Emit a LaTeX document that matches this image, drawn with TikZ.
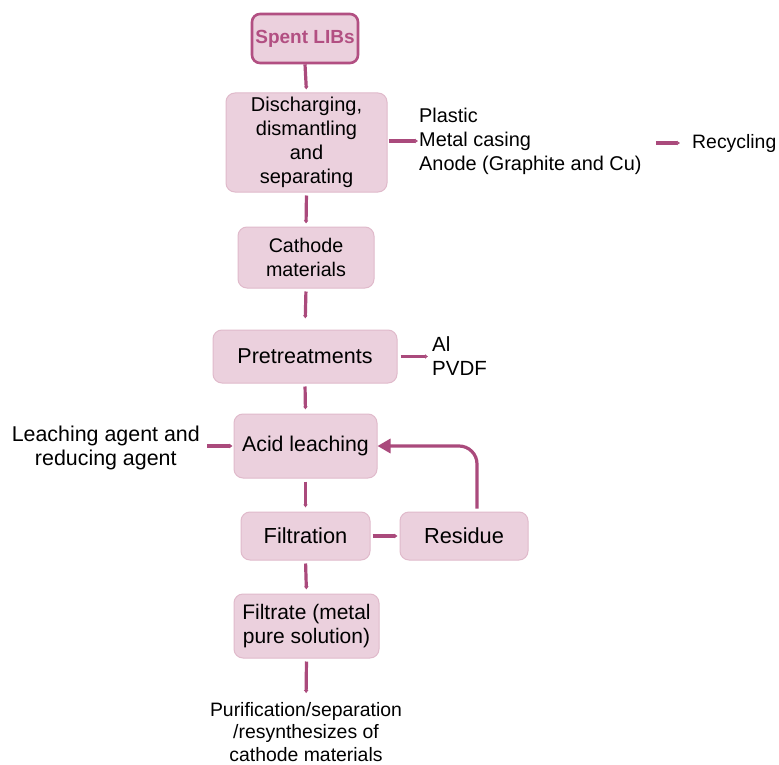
\documentclass[tikz,border=0pt]{standalone}
\usepackage{fontspec}
\setmainfont{Liberation Sans}
\usetikzlibrary{arrows.meta}
\definecolor{boxfill}{HTML}{EBD0DD}
\definecolor{boxline}{HTML}{E0BACB}
\definecolor{lnk}{HTML}{AA4A7C}
\definecolor{spentc}{HTML}{B24F82}
\newcommand{\fsz}[1]{\fontsize{#1}{24}\selectfont}
\begin{document}
\begin{tikzpicture}[x=1pt,y=-1pt,
  box/.style={draw=boxline, fill=boxfill, line width=1pt, rounded corners=9pt, align=center,
    font=\fsz{20.5}, inner sep=0pt},
  lbl/.style={align=left, font=\fsz{20.5}, inner sep=0pt},
  conn/.style={draw=lnk, line width=3.2pt, -{Latex[length=3pt,width=5pt]}},
  loopconn/.style={draw=lnk, line width=3.2pt, rounded corners=18pt, -{Triangle[length=13pt,width=14pt]}}
]
\fill[white] (0,0) rectangle (779,765);
\useasboundingbox (0,0) rectangle (779,765);

\node[box, draw=spentc, line width=2.6pt, rounded corners=8pt, minimum width=106pt, minimum height=49pt,
  text=spentc, font=\bfseries\fontsize{19}{23}\selectfont] (spent) at (305,38.5) {Spent LIBs};
\node[box, font=\fsz{20}, minimum width=161pt, minimum height=99pt] (disch) at (306.5,142.5) {Discharging,\\dismantling\\and\\separating};
\node[box, font=\fsz{19.7}, minimum width=136pt, minimum height=61pt] (cath) at (306,257.5) {Cathode\\materials};
\node[box, font=\fsz{21.5}, minimum width=184pt, minimum height=53pt] (pre) at (305,356.5) {Pretreatments};
\node[box, font=\fsz{21.3}, minimum width=143pt, minimum height=64pt] (acid) at (305.5,446) {Acid leaching};
\node[box, font=\fsz{21.8}, minimum width=129pt, minimum height=48pt] (filt) at (305.5,536) {Filtration};
\node[box, font=\fsz{21.8}, minimum width=128pt, minimum height=48pt] (res) at (464,536) {Residue};
\node[box, font=\fsz{21}, minimum width=145pt, minimum height=64pt] (filtr) at (306.5,626) {Filtrate (metal\\pure solution)};

\node[lbl, font=\fsz{19.9}, anchor=west] (mats) at (419,141) {Plastic\\Metal casing\\Anode (Graphite and Cu)};
\node[lbl, font=\fsz{19.4}, anchor=west] (recyc) at (692,143) {Recycling};
\node[lbl, anchor=west] (alp) at (432,356) {Al\\PVDF};
\node[lbl, font=\fsz{21.4}, align=center, anchor=east] (agent) at (200,448) {Leaching agent and\\reducing agent};
\node[lbl, font=\fontsize{19.4}{22.5}\selectfont, align=center] (purif) at (306,732) {Purification/separation\\/resynthesizes of\\cathode materials};

\draw[conn, shorten >=3pt] (spent.south) -- (disch.north);
\draw[conn, shorten <=3pt, shorten >=3pt] (disch.south) -- (cath.north);
\draw[conn, shorten <=3pt, shorten >=11pt] (cath.south) -- (pre.north);
\draw[conn, shorten <=3pt, shorten >=4pt] (pre.south) -- (acid.north);
\draw[conn, shorten <=3pt, shorten >=4pt] (acid.south) -- (filt.north);
\draw[conn, shorten <=3pt, shorten >=4pt] (filt.south) -- (filtr.north);
\draw[conn, shorten <=3pt, shorten >=9pt] (filtr.south) -- (purif.north);

\draw[conn, shorten <=1pt, shorten >=1pt] (disch.east |- mats.west) -- (mats.west);
\draw[conn, shorten <=14pt, shorten >=12pt] (mats.east |- recyc.west) -- (recyc.west);
\draw[conn, shorten <=3pt, shorten >=4pt] (pre.east) -- (pre.east -| alp.west);
\draw[conn, shorten <=7pt, shorten >=1pt] (agent.east |- acid.west) -- (acid.west);
\draw[conn, shorten <=2pt, shorten >=2pt] (filt.east) -- (res.west);
\draw[loopconn] ([xshift=13pt,yshift=3pt]res.north) |- (acid.east);
\end{tikzpicture}
\end{document}
